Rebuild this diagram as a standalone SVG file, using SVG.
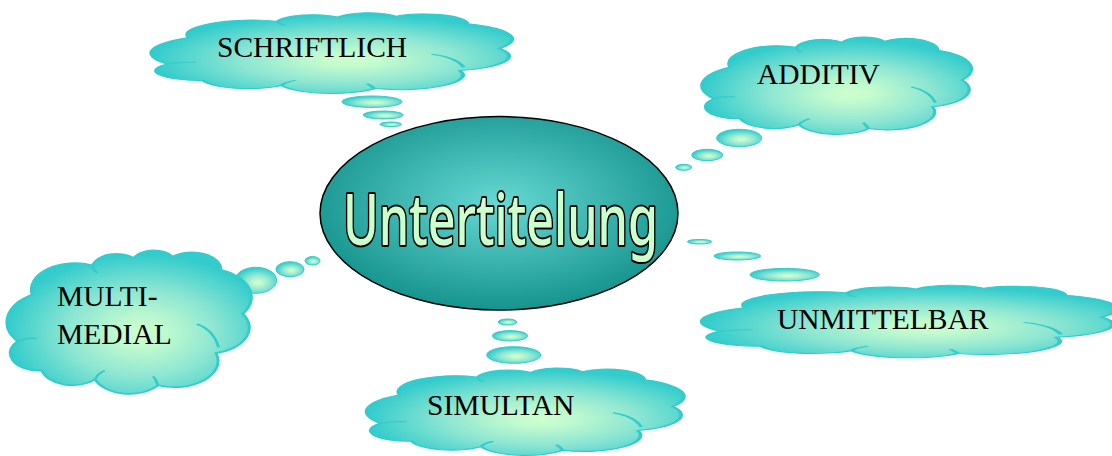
<svg xmlns="http://www.w3.org/2000/svg" width="1112" height="456" viewBox="0 0 1112 456">
<defs>
  <radialGradient id="cloudFill" cx="0.55" cy="0.58" r="0.55">
    <stop offset="0" stop-color="#CCFFCC"/>
    <stop offset="0.15" stop-color="#C4FBCE"/>
    <stop offset="0.55" stop-color="#8DE6D2"/>
    <stop offset="1" stop-color="#33CCCC"/>
  </radialGradient>
  <radialGradient id="centerFill" cx="0.5" cy="0.45" r="0.55">
    <stop offset="0" stop-color="#66D9D4"/>
    <stop offset="1" stop-color="#17948E"/>
  </radialGradient>
  <path id="cloud" d="M4,64 A22,22 0 0,1 10,32 A18,18 0 0,1 35,12 A10,10 0 0,1 52,7 A9,9 0 0,1 68,6 A12,12 0 0,1 88,15 A20,20 0 0,1 97,45 A18,18 0 0,1 86,72 A18,18 0 0,1 62,94 A15,15 0 0,1 36,90 A13,13 0 0,1 14,84 A12,12 0 0,1 4,64 Z"/>
  <path id="inner" d="M4,64 Q8,61 12,62 M78,52 Q85,56 87,68 M35,12 Q35,15 37,17 M36,90 Q37,86 40,84 M62,94 Q61,90 60,88"/>
</defs>
<style>
  .cl { fill: url(#cloudFill); stroke: #33CCCC; stroke-width: 1.2; }
  .cl path, .cl use { vector-effect: non-scaling-stroke; }
  .in { fill: none; stroke: #33CCCC; stroke-width: 1.2; }
  .bub { fill: url(#cloudFill); stroke: #33CCCC; stroke-width: 1; }
  .lbl { font-family: "Liberation Serif", "Times New Roman", serif; font-size: 29.5px; fill: #000; }
</style>
<rect width="1112" height="456" fill="#FFFFFF"/>

<g id="connectors">
  <ellipse class="bub" cx="372" cy="101.7" rx="30" ry="5.7"/>
  <ellipse class="bub" cx="383.3" cy="115" rx="20" ry="4"/>
  <ellipse class="bub" cx="390.8" cy="124.3" rx="10.8" ry="2.3"/>

  <ellipse class="bub" cx="739.2" cy="138" rx="22.5" ry="8.7"/>
  <ellipse class="bub" cx="707.2" cy="155" rx="15.5" ry="5.7"/>
  <ellipse class="bub" cx="683.7" cy="167.3" rx="8" ry="3"/>

  <ellipse class="bub" cx="699.5" cy="241.7" rx="12.2" ry="2.3"/>
  <ellipse class="bub" cx="737.3" cy="256" rx="23.3" ry="4"/>
  <ellipse class="bub" cx="784.7" cy="274.7" rx="34.7" ry="6.3"/>

  <ellipse class="bub" cx="507.5" cy="322" rx="9.2" ry="3"/>
  <ellipse class="bub" cx="510" cy="335.8" rx="17.7" ry="5.2"/>
  <ellipse class="bub" cx="513.7" cy="355" rx="27" ry="8.3"/>

  <ellipse class="bub" cx="255.8" cy="280.3" rx="20.8" ry="13"/>
  <ellipse class="bub" cx="290" cy="269.2" rx="14" ry="7.5"/>
  <ellipse class="bub" cx="312.5" cy="260.8" rx="7.5" ry="4.2"/>
</g>

<g id="node-center">
  <ellipse cx="499" cy="213.3" rx="179" ry="96.7" fill="url(#centerFill)" stroke="#000" stroke-width="1.5"/>
  <text x="500.5" y="245" text-anchor="middle" textLength="315" lengthAdjust="spacingAndGlyphs" font-family="'Comic Sans MS', 'Noto Sans', sans-serif" font-size="70" font-weight="500" fill="#CCFFCC" stroke="#000" stroke-width="4" stroke-linejoin="round" paint-order="stroke">Untertitelung</text>
</g>

<g id="node-schriftlich">
  <g class="cl" transform="translate(153,11.5) scale(3.57,0.82)">
    <use href="#cloud"/>
    <use href="#inner" class="in"/>
  </g>
  <text class="lbl" x="217" y="57">SCHRIFTLICH</text>
</g>

<g id="node-additiv">
  <g class="cl" transform="translate(703,35.5) scale(2.67,0.99)">
    <use href="#cloud"/>
    <use href="#inner" class="in"/>
  </g>
  <text class="lbl" x="757" y="84">ADDITIV</text>
</g>

<g id="node-unmittelbar">
  <g class="cl" transform="translate(704,284) scale(4.1,0.74)">
    <use href="#cloud"/>
    <use href="#inner" class="in"/>
  </g>
  <text class="lbl" x="777" y="329">UNMITTELBAR</text>
</g>

<g id="node-simultan">
  <g class="cl" transform="translate(368,366.5) scale(3.14,0.89)">
    <use href="#cloud"/>
    <use href="#inner" class="in"/>
  </g>
  <text class="lbl" x="427" y="415">SIMULTAN</text>
</g>

<g id="node-multimedial">
  <g class="cl" transform="translate(8,248) scale(2.42,1.46)">
    <use href="#cloud"/>
    <use href="#inner" class="in"/>
  </g>
  <text class="lbl" x="57" y="306">MULTI-</text>
  <text class="lbl" x="57" y="344">MEDIAL</text>
</g>
</svg>
